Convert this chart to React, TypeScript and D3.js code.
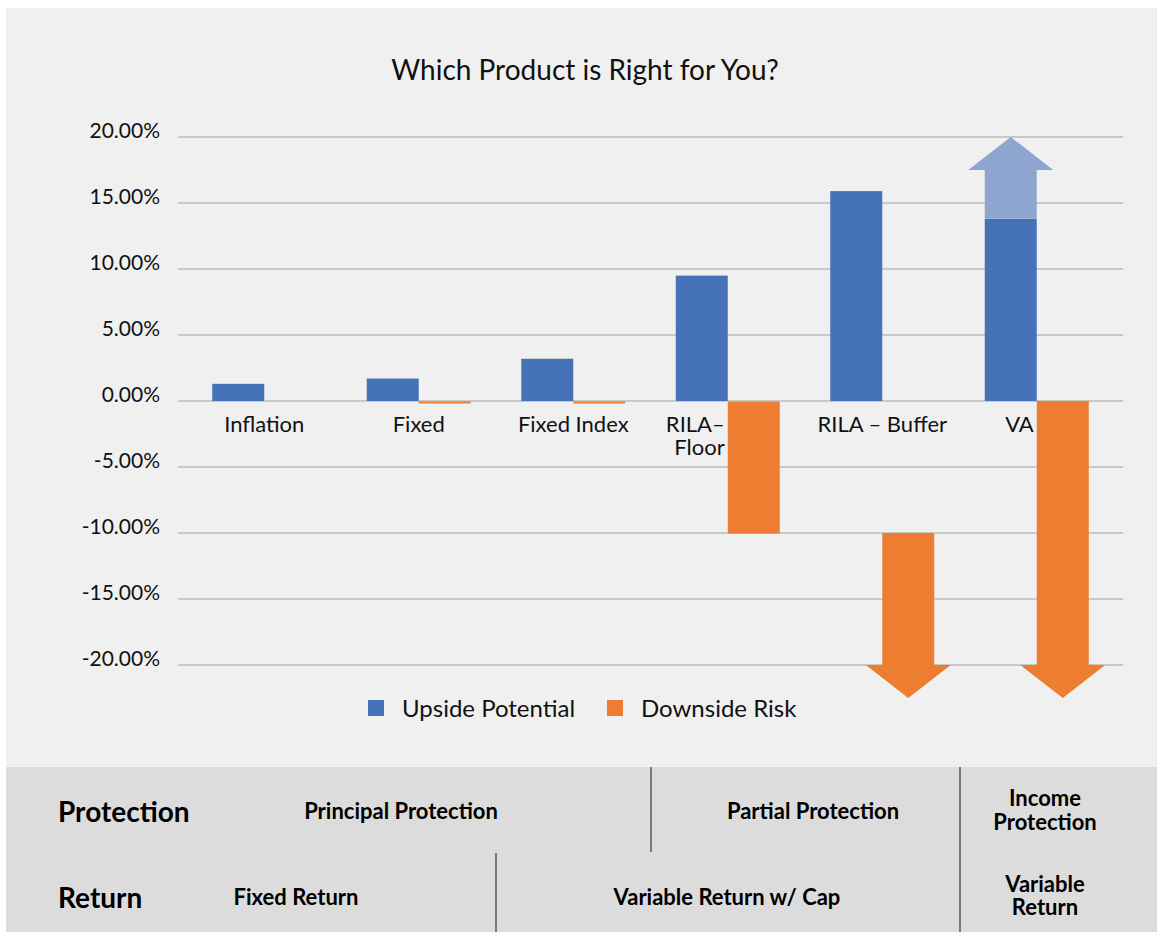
import * as React from "react";
import * as d3 from "d3";

const categories: string[][] = [
  ["Inflation"],
  ["Fixed"],
  ["Fixed Index"],
  ["RILA–", "Floor"],
  ["RILA – Buffer"],
  ["VA"],
];
const upside = [1.3, 1.7, 3.2, 9.5, 15.9, 13.8];
const downsideTop = [0, 0, 0, 0, -10, 0];
const downsideBottom = [0, -0.15, -0.15, -10, -20, -20];
const downsideArrowTip: (number | null)[] = [null, null, null, null, -22.5, -22.5];
const upsideArrow: ({ neck: number; tip: number } | null)[] = [null, null, null, null, null, { neck: 17.5, tip: 20 }];
const yTicks = [20, 15, 10, 5, 0, -5, -10, -15, -20];
const legendItems = [
  { label: "Upside Potential", color: "#4672b8" },
  { label: "Downside Risk", color: "#ed7d31" },
];

const W = 1157;
const H = 932;
const FONT = "Lato, 'Open Sans', sans-serif";

export default function App() {
  const x = d3
    .scaleBand<number>()
    .domain(d3.range(categories.length))
    .range([187, 1114])
    .paddingInner(0.327)
    .paddingOuter(0.1635);
  const y = d3.scaleLinear().domain([-20, 20]).range([665, 137]);
  const half = x.bandwidth() / 2;
  const headExtra = 16.5;
  const fmt = (v: number) => v.toFixed(2) + "%";

  // orange bar that ends in a downward arrow head
  const downArrow = (i: number) => {
    const x0 = x(i)! + half;
    const x1 = x0 + half;
    const p = d3.path();
    p.moveTo(x0, y(downsideTop[i]));
    p.lineTo(x1, y(downsideTop[i]));
    p.lineTo(x1, y(downsideBottom[i]));
    p.lineTo(x1 + headExtra, y(downsideBottom[i]));
    p.lineTo((x0 + x1) / 2, y(downsideArrowTip[i]!));
    p.lineTo(x0 - headExtra, y(downsideBottom[i]));
    p.lineTo(x0, y(downsideBottom[i]));
    p.closePath();
    return p.toString();
  };

  // pale arrow on top of the VA upside bar
  const upArrow = (i: number) => {
    const a = upsideArrow[i]!;
    const x0 = x(i)!;
    const x1 = x0 + half;
    const p = d3.path();
    p.moveTo(x0, y(upside[i]));
    p.lineTo(x0, y(a.neck));
    p.lineTo(x0 - headExtra, y(a.neck));
    p.lineTo((x0 + x1) / 2, y(a.tip));
    p.lineTo(x1 + headExtra, y(a.neck));
    p.lineTo(x1, y(a.neck));
    p.lineTo(x1, y(upside[i]));
    p.closePath();
    return p.toString();
  };

  return (
    <div style={{ position: "fixed", left: 0, top: 0, background: "#fff" }}>
      <svg width={W} height={H} style={{ display: "block", fontFamily: FONT }}>
        <rect x={6} y={8} width={W - 6} height={759} fill="#f0f0f0" />
        <text x={585} y={80} textAnchor="middle" fontSize={28} fill="#111">
          Which Product is Right for You?
        </text>

        {yTicks.map((t) => (
          <g key={t}>
            <line x1={178} x2={1123} y1={y(t)} y2={y(t)} stroke="#bdbdbd" strokeWidth={1.5} />
            <text x={160} y={y(t) + 1} textAnchor="end" fontSize={21} fill="#111">
              {fmt(t)}
            </text>
          </g>
        ))}

        {upside.map((v, i) => (
          <rect key={"u" + i} x={x(i)} y={y(v)} width={half} height={y(0) - y(v)} fill="#4672b8" />
        ))}
        {upsideArrow.map((a, i) =>
          a ? <path key={"ua" + i} d={upArrow(i)} fill="#8ea5d0" /> : null
        )}
        {downsideBottom.map((v, i) =>
          downsideArrowTip[i] !== null ? (
            <path key={"d" + i} d={downArrow(i)} fill="#ed7d31" />
          ) : (
            <rect
              key={"d" + i}
              x={x(i)! + half}
              y={y(downsideTop[i]) + 0.5}
              width={half}
              height={Math.max(0, y(v) - y(downsideTop[i]))}
              fill="#ed7d31"
            />
          )
        )}

        {categories.map((lines, i) => {
          const cx = x(i)! + half;
          const tall = downsideBottom[i] <= -10 && downsideTop[i] === 0;
          const lx = tall ? cx - 3 : cx;
          return (
            <text
              key={"c" + i}
              x={lx}
              y={432}
              textAnchor={tall ? "end" : "middle"}
              fontSize={22}
              fill="#111"
            >
              {lines.map((l, j) => (
                <tspan key={j} x={lx} dy={j === 0 ? 0 : 23}>
                  {l}
                </tspan>
              ))}
            </text>
          );
        })}

        {legendItems.map((d, i) => {
          const lx = 368 + i * 239;
          return (
            <g key={d.label}>
              <rect x={lx} y={700} width={16} height={16} fill={d.color} />
              <text x={lx + 34} y={717} fontSize={24} fill="#111">
                {d.label}
              </text>
            </g>
          );
        })}

        <rect x={6} y={767} width={W - 6} height={H - 767} fill="#dcdcdc" />
        <g stroke="#7a7a7a" strokeWidth={2}>
          <line x1={651} x2={651} y1={767} y2={852} />
          <line x1={960} x2={960} y1={767} y2={H} />
          <line x1={496} x2={496} y1={853} y2={H} />
        </g>
        <g fontWeight="bold" fill="#000">
          <text x={58} y={822} fontSize={28}>Protection</text>
          <text x={58} y={908} fontSize={28}>Return</text>
          <g fontSize={22} textAnchor="middle">
            <text x={401} y={819}>Principal Protection</text>
            <text x={813} y={819}>Partial Protection</text>
            <text x={1045} y={806}>Income</text>
            <text x={1045} y={830}>Protection</text>
            <text x={296} y={905}>Fixed Return</text>
            <text x={727} y={905}>Variable Return w/ Cap</text>
            <text x={1045} y={892}>Variable</text>
            <text x={1045} y={915}>Return</text>
          </g>
        </g>
      </svg>
    </div>
  );
}
